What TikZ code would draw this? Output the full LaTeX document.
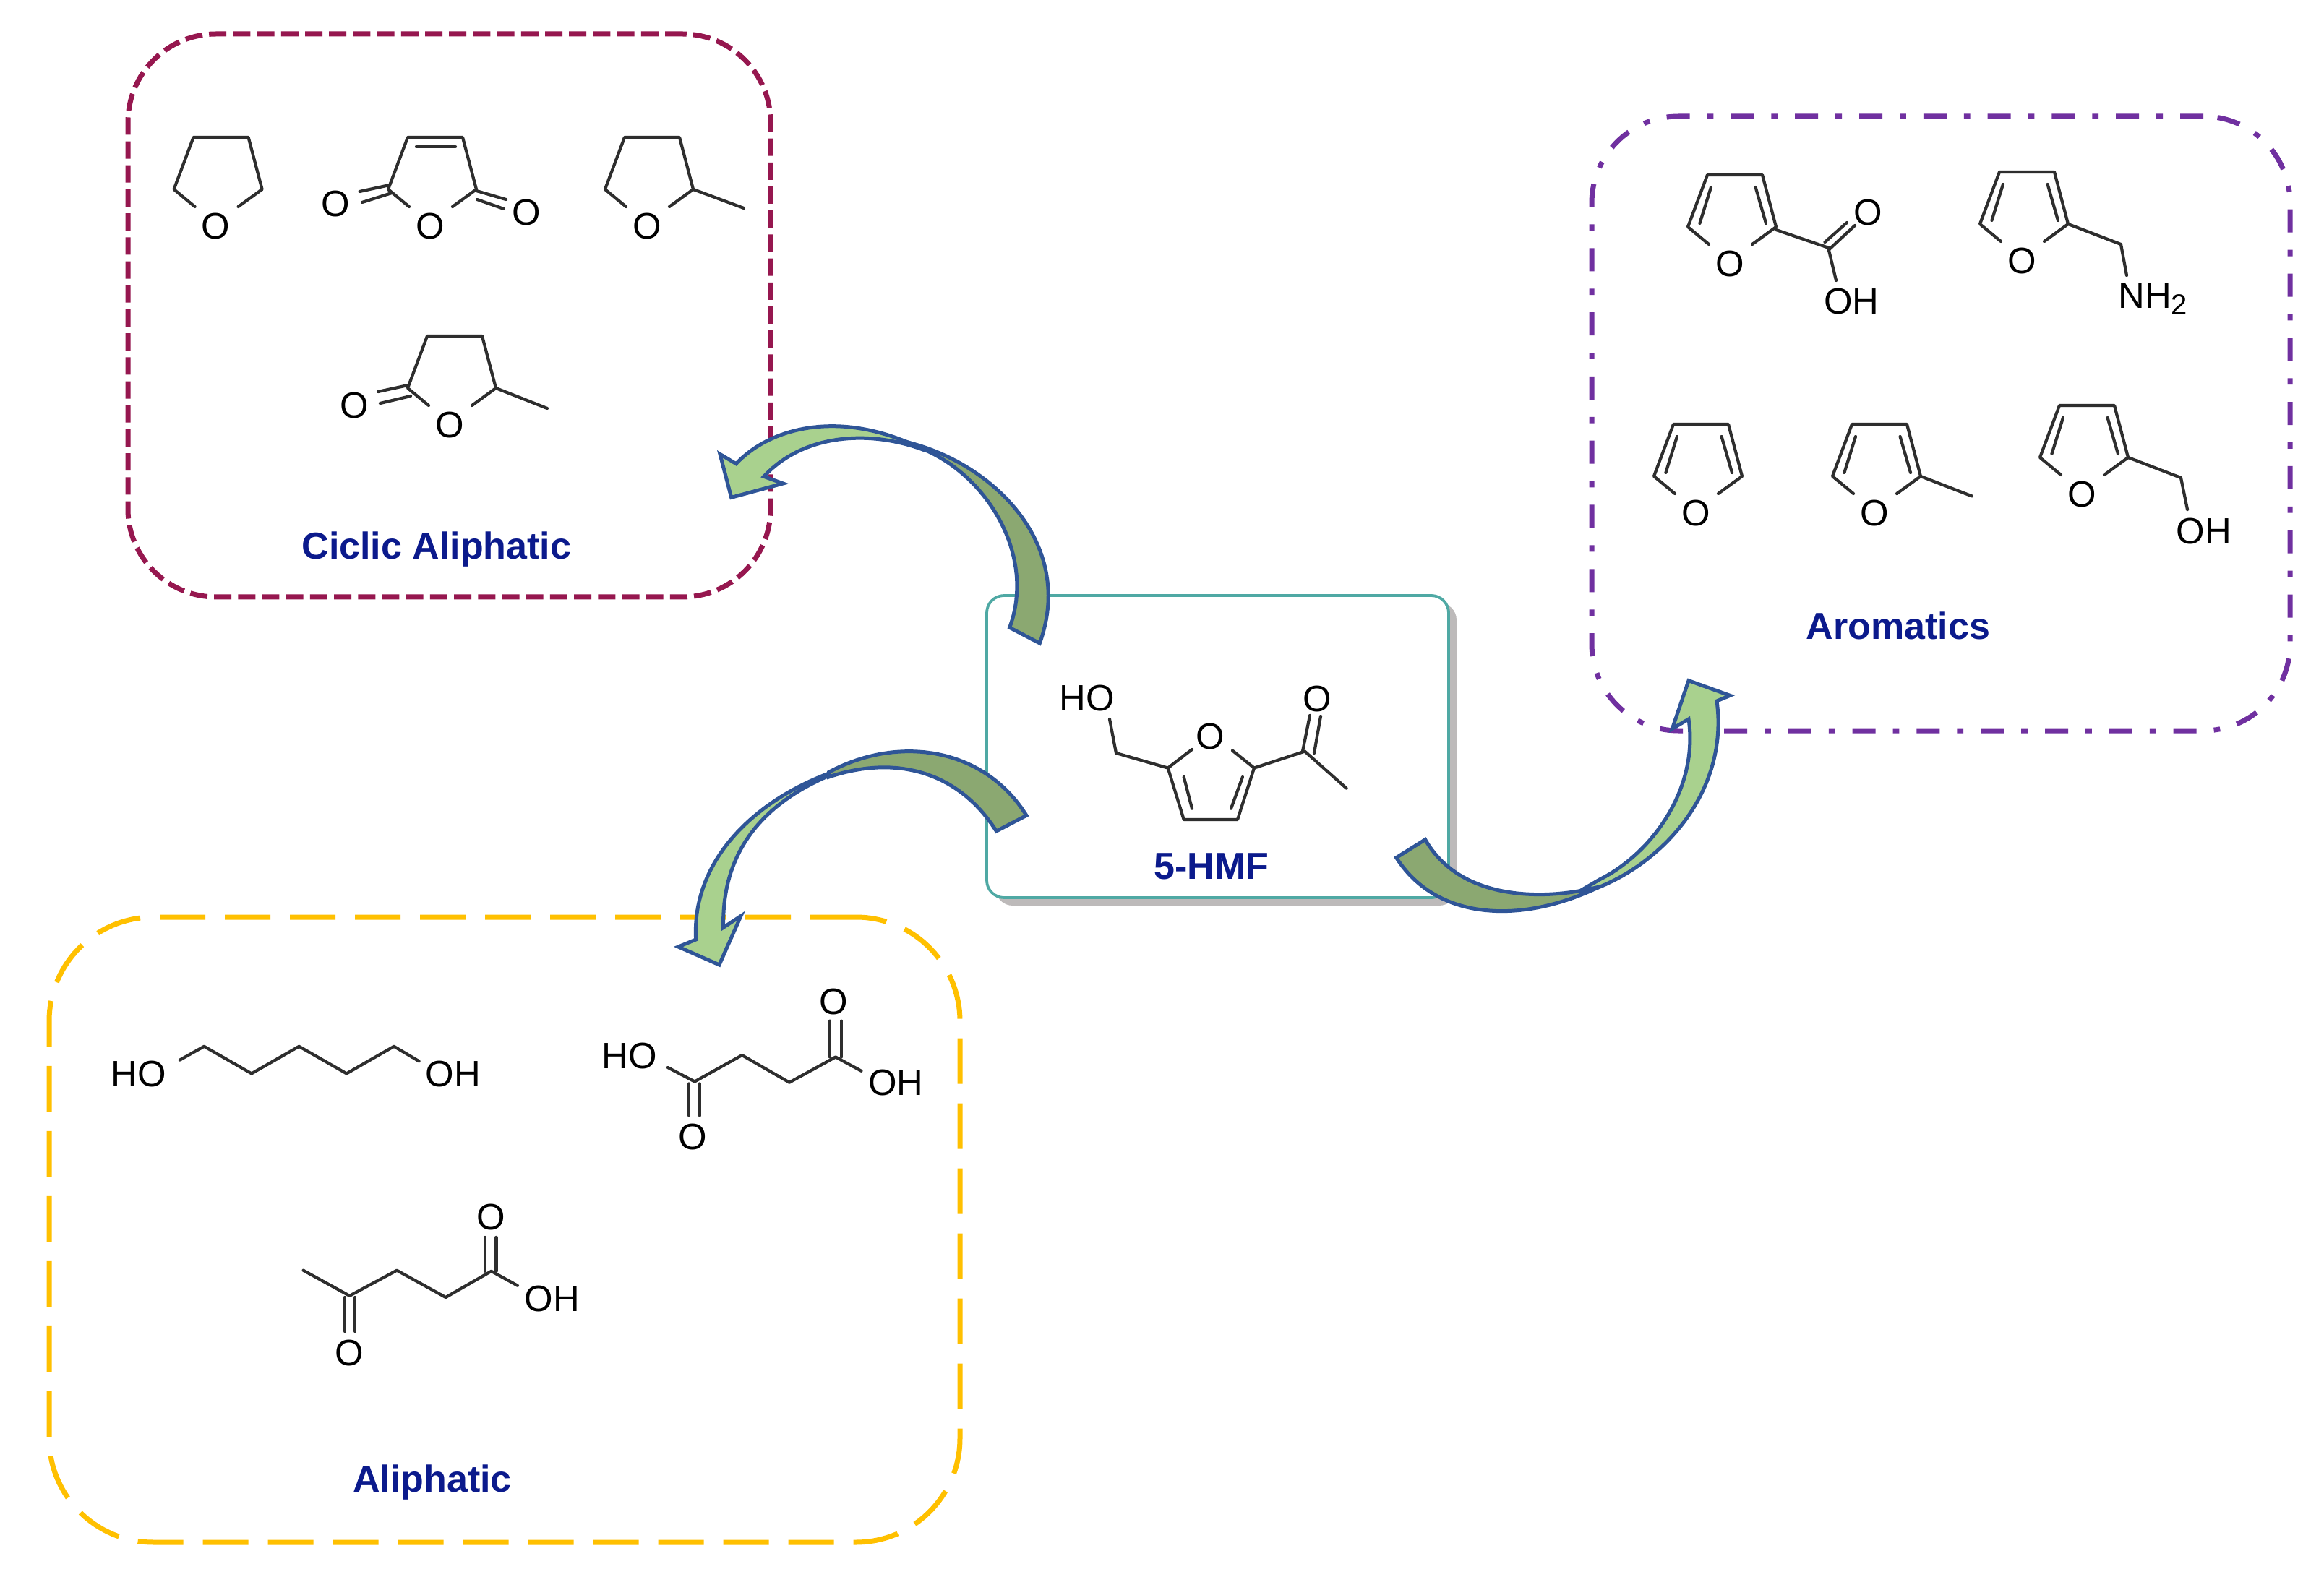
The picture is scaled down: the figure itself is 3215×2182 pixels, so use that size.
\documentclass[tikz,border=0pt]{standalone}
\usepackage{fontspec}
\setmainfont{Liberation Sans}
\definecolor{maroon}{HTML}{96174F}
\definecolor{violet}{HTML}{7030A0}
\definecolor{amber}{HTML}{FFC000}
\definecolor{tealb}{HTML}{4FA9A4}
\definecolor{shadowg}{HTML}{BDBABA}
\definecolor{labelblue}{HTML}{0B1A8C}
\definecolor{lightgr}{HTML}{A9D18E}
\definecolor{darkgr}{HTML}{8BA871}
\definecolor{edgeb}{HTML}{2F5597}
\definecolor{bondc}{HTML}{2E2E2E}
\tikzset{
  x=0.25pt,y=-0.25pt,
  group/.style={draw,fill=none,inner sep=0pt,outer sep=0pt,line width=1.75pt},
  atom/.style={inner sep=0pt,outer sep=0pt,font=\fontsize{12.7pt}{14pt}\selectfont,text=black},
  bond/.style={draw=bondc,line width=1.05pt,line join=round,line cap=round},
  title/.style={inner sep=0pt,outer sep=0pt,font=\fontsize{13pt}{14pt}\selectfont\bfseries,text=labelblue,text height=9.3pt,text depth=0pt},
  arrowlight/.style={fill=lightgr,draw=edgeb,line width=1.25pt,line join=miter,miter limit=10},
  arrowdark/.style={fill=darkgr,draw=edgeb,line width=1.25pt,line join=miter,miter limit=10},
}
\newcommand{\ringsat}[3]{%
  \begin{scope}[shift={(#2,#3)}]
    \node[atom] (#1) at (0,0) {O};
    \draw[bond] (-29,-27) -- (-58,-51) -- (-31,-123) -- (45,-123) -- (64,-51) -- (31,-27);
  \end{scope}}
\newcommand{\ringaro}[3]{%
  \ringsat{#1}{#2}{#3}%
  \begin{scope}[shift={(#2,#3)}]
    \draw[bond] (-26,-106) -- (-41.6,-56);
    \draw[bond] (35.6,-106) -- (50,-56);
  \end{scope}}
\begin{document}
\begin{tikzpicture}
\useasboundingbox (0,0) rectangle (3215,2182);
\fill[white] (0,0) rectangle (3215,2182);

% group frames
\node[group,draw=maroon,rounded corners=30.5pt,dash pattern=on 6pt off 2.3pt,minimum width=222.25pt,minimum height=194.75pt] (cyc) at (621.5,436.5) {};
\node[group,draw=violet,rounded corners=30pt,dash pattern=on 8pt off 6pt on 2.2pt off 6pt,minimum width=241.5pt,minimum height=212.5pt] (aro) at (2685,586) {};
\node[group,draw=amber,rounded corners=36pt,dash pattern=on 15.75pt off 6.75pt,minimum width=315pt,minimum height=216.25pt] (ali) at (698,1701.5) {};

% central box
\fill[shadowg,rounded corners=6pt] (1377,834) rectangle (2015,1253);
\node[draw=tealb,fill=white,line width=0.95pt,rounded corners=6pt,inner sep=0pt,outer sep=0pt,minimum width=159.75pt,minimum height=104.5pt] (hmfbox) at (1684.5,1033) {};

% ---- cyclic aliphatic ----
\ringsat{thf}{298.6}{313}
\ringsat{mao}{595}{313}
\draw[bond] (576,203) -- (630,203);
\node[atom] (maol) at (464.4,282.5) {O};
\node[atom] (maor) at (728.5,294) {O};
\draw[bond] (539,256) -- (497.6,265);
\draw[bond] (542,267) -- (501,280);
\draw[bond] (659,264) -- (700,276);
\draw[bond] (660,276) -- (697,289);
\ringsat{mthf}{895}{313}
\draw[bond] (959,262) -- (1029,288);
\ringsat{gvl}{622}{588}
\node[atom] (gvlo) at (490.6,561) {O};
\draw[bond] (564.5,533) -- (523,542);
\draw[bond] (568,548) -- (526,558);
\draw[bond] (686,537) -- (757,565);
\node[title] (tcyc) at (604,755) {Ciclic Aliphatic};

% ---- aromatics ----
\ringaro{fa}{2393}{365}
\node[atom] (fao) at (2584.6,294) {O};
\node[atom] (faoh) at (2561.5,417) {OH};
\draw[bond] (2457,318) -- (2527,342);
\draw[bond] (2530,345.5) -- (2566,312);
\draw[bond] (2524.5,335) -- (2555,308);
\draw[bond] (2529,342) -- (2540,388);
\ringaro{fam}{2797}{361}
\draw[bond] (2861,310) -- (2934,338) -- (2942,381);
\node[atom,anchor=base west] (nh) at (2930.5,427) {NH\raisebox{-0.3ex}{\fontsize{10pt}{10pt}\selectfont 2}};
\ringaro{fur}{2346}{710}
\ringaro{mf}{2593}{710}
\draw[bond] (2657,659) -- (2728,686.5);
\ringaro{fol}{2880}{684}
\draw[bond] (2944,633) -- (3017,661) -- (3026,705);
\node[atom] (foloh) at (3048.6,735) {OH};
\node[title] (taro) at (2626,866) {Aromatics};

% ---- aliphatic ----
\node[atom] (hdl) at (191.5,1486) {HO};
\node[atom] (hdr) at (626.7,1486) {OH};
\draw[bond] (248.8,1466.6) -- (282.4,1447.8) -- (348,1485.4) -- (413.7,1447.8) -- (479.4,1485.4) -- (545,1447.8) -- (579.6,1468.3);
\node[atom] (sal) at (870.8,1461) {HO};
\node[atom] (sar) at (1239.5,1497.7) {OH};
\node[atom] (sat) at (1153.6,1386) {O};
\node[atom] (sab) at (958.4,1572.8) {O};
\draw[bond] (923.8,1477) -- (961,1496.5) -- (1026.5,1460) -- (1092,1497.7) -- (1156,1462.5) -- (1191.5,1481.8);
\draw[bond] (1147.8,1412.6) -- (1147.8,1462.5);
\draw[bond] (1163.7,1412.6) -- (1163.7,1462.5);
\draw[bond] (953.3,1499.4) -- (953.3,1543.5);
\draw[bond] (967.6,1499.4) -- (967.6,1543.5);
\node[atom] (lao) at (764,1797) {OH};
\node[atom] (lat) at (679,1684.3) {O};
\node[atom] (lab) at (483.6,1872) {O};
\draw[bond] (419.6,1757.7) -- (483.6,1792.9) -- (549,1757.7) -- (616.6,1795) -- (679.7,1758.8) -- (716,1778.8);
\draw[bond] (671.3,1711.9) -- (671.3,1758.8);
\draw[bond] (686.5,1711.9) -- (686.5,1758.8);
\draw[bond] (476.9,1795) -- (476.9,1842);
\draw[bond] (491.2,1795) -- (491.2,1842);
\node[title] (tali) at (598,2046) {Aliphatic};

% ---- 5-HMF ----
\node[atom] (hmfho) at (1504,965.6) {HO};
\node[atom] (hmfring) at (1674,1019) {O};
\node[atom] (hmfo) at (1822,967) {O};
\draw[bond] (1535,995) -- (1544,1042) -- (1615.7,1062.6);
\draw[bond] (1649,1037) -- (1615.7,1062.6) -- (1637.7,1134) -- (1712,1134) -- (1735,1062.6) -- (1705,1038.6);
\draw[bond] (1637.7,1075) -- (1649,1118.7);
\draw[bond] (1719,1075) -- (1703,1118.7);
\draw[bond] (1735,1062.6) -- (1805,1039.6) -- (1862.6,1090.6);
\draw[bond] (1802,1039.6) -- (1812,990);
\draw[bond] (1818,1042) -- (1827,991);
\node[title] (thmf) at (1676,1198) {5-HMF};

% ---- curved block arrows ----
\begin{scope}[shift={(980,570)},scale=0.33333]
  \path[arrowlight] (115,215) .. controls (260,60) and (560,-15) .. (900,160) .. controls (680,75) and (400,85) .. (230,268) -- (310,297) -- (95,355) -- (48,175) -- cycle;
  \path[arrowdark] (850,132) .. controls (1200,230) and (1520,560) .. (1375,960) -- (1250,895) .. controls (1360,600) and (1160,260) .. (880,150) -- cycle;
\end{scope}
\begin{scope}[shift={(930,1020)},scale=0.33333]
  \path[arrowlight] (650,150) .. controls (330,270) and (80,520) .. (98,840) -- (25,870) -- (195,945) -- (285,742) -- (212,790) .. controls (205,480) and (370,280) .. (650,160) -- cycle;
  \path[arrowdark] (650,145) .. controls (950,-15) and (1300,50) .. (1470,325) -- (1345,390) .. controls (1200,160) and (950,65) .. (650,165) -- cycle;
\end{scope}
\begin{scope}[shift={(1920,930)},scale=0.33333]
  \path[arrowlight] (760,930) .. controls (1100,850) and (1420,520) .. (1365,120) -- (1420,97) -- (1248,35) -- (1180,235) -- (1248,195) .. controls (1290,480) and (1100,750) .. (880,860) -- cycle;
  \path[arrowdark] (35,770) .. controls (200,1030) and (550,1050) .. (880,890) .. controls (650,950) and (300,950) .. (155,695) -- cycle;
\end{scope}
\end{tikzpicture}
\end{document}
